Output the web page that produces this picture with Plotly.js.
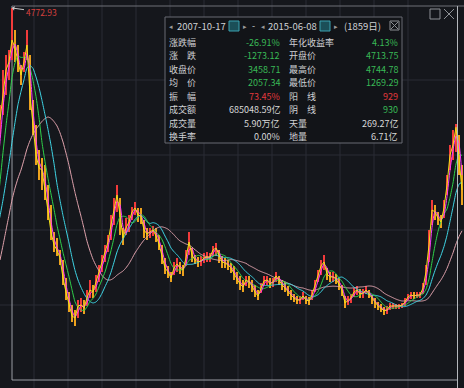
<!DOCTYPE html>
<html><head><meta charset="utf-8">
<script src="https://cdn.plot.ly/plotly-3.0.1.min.js"></script>
<style>html,body{margin:0;padding:0;background:#15171c;overflow:hidden}#chart{width:464px;height:388px}</style>
</head><body><div id="chart"></div>
<script>
// Closes of the bar groups before the visible window (they only feed the moving averages)
const preClose = [618,729,872,1059,1720,1996,2216,1908,1974,2018,2051,2084,2106,2128,2161,2194,2602,2878,3065];
// One bar group ≈ 12 trading days
const closeV = [3539,3814,4090,4178,4420,4332,4178,4035,4178,4365,3814,3484,3153,3010,2988,2767,2547,2305,2161,2106,
2018,1798,1643,1500,1379,1357,1489,1500,1467,1577,1665,1643,1754,1864,1974,2084,2194,2382,2569,2712,
2492,2238,2349,2415,2525,2569,2492,2481,2327,2283,2305,2327,2261,2172,2040,1908,1864,1798,1908,1952,
1908,1886,2018,2194,2051,1996,1974,1985,2018,2029,2029,2106,2128,2040,1974,1963,1941,1908,1842,1787,
1732,1698,1776,1754,1710,1643,1599,1687,1765,1776,1732,1754,1820,1776,1721,1687,1643,1610,1577,1555,
1555,1599,1555,1544,1610,1710,1820,1930,1974,1842,1809,1809,1787,1732,1665,1522,1555,1577,1643,1665,
1621,1632,1665,1621,1566,1522,1489,1467,1434,1445,1489,1489,1489,1489,1500,1533,1588,1610,1599,1610,
1610,1687,1864,2161,2547,2525,2459,2415,2569,2823,3153,3263,3459,3097,2767];
const highV = [3704,4090,4255,4310,4772.93,4531,4365,4145,4288,4531,4255,3759,3484,3208,3120,3043,2823,2602,2305,2238,
2106,1996,1798,1643,1500,1445,1555,1577,1555,1665,1776,1721,1831,1941,2051,2161,2272,2492,2679,2823,
2679,2349,2459,2492,2580,2635,2569,2569,2437,2349,2349,2371,2349,2272,2161,2018,1930,1864,1974,2018,
1974,1941,2106,2305,2128,2051,2029,2040,2073,2084,2073,2150,2183,2106,2040,2018,1996,1963,1930,1864,
1820,1776,1820,1820,1776,1721,1665,1743,1820,1820,1798,1798,1864,1820,1776,1754,1710,1665,1621,1599,
1599,1643,1599,1588,1665,1776,1886,1996,2051,1908,1864,1864,1842,1798,1721,1599,1599,1621,1687,1710,
1676,1676,1710,1665,1610,1577,1533,1511,1478,1489,1522,1522,1511,1511,1522,1577,1621,1643,1643,1643,
1643,1743,1941,2327,2657,2602,2525,2492,2657,2933,3263,3429,3500,3374,3043];
const lowV = [3374,3594,3814,3980,4200,4178,4068,3925,4068,4200,3649,3374,3043,2878,2767,2657,2437,2216,2084,2040,
1941,1721,1555,1423,1313,1269.29,1357,1423,1401,1489,1577,1577,1643,1754,1864,1974,2084,2216,2382,2525,
2272,2161,2272,2305,2437,2492,2415,2393,2238,2216,2238,2261,2194,2106,1952,1842,1798,1754,1831,1864,
1842,1820,1930,2051,1974,1952,1919,1930,1963,1974,1974,2040,2040,1963,1908,1908,1886,1853,1776,1732,
1665,1643,1710,1687,1643,1588,1555,1632,1721,1721,1687,1698,1754,1721,1665,1643,1599,1555,1533,1511,
1511,1555,1511,1500,1555,1643,1754,1831,1886,1776,1754,1754,1732,1665,1599,1467,1500,1522,1588,1610,
1577,1577,1621,1577,1511,1467,1445,1423,1390,1401,1445,1456,1456,1456,1467,1489,1555,1566,1566,1577,
1577,1621,1721,1974,2382,2437,2382,2349,2459,2712,2988,3097,3186,2933,2602];
const maLens = [2, 5, 10, 20];
const maColors = ['#ff3cff', '#2fd24a', '#3fd6e6', '#e0a3ad'];

const allClose = preClose.concat(closeV);
const allIdx = allClose.map((_, i) => i - preClose.length);
const idx = closeV.map((_, i) => i);
function ma(arr, n) {
  return arr.map((_, i) => i < n - 1 ? null : arr.slice(i - n + 1, i + 1).reduce((a, b) => a + b, 0) / n);
}
const W = 464, H = 388;
const px = x => x / W, py = y => 1 - y / H;

const traces = [];
traces.push({
  type: 'bar', x: idx, base: lowV, y: highV.map((h, i) => h - lowV[i]), width: 0.7,
  marker: {color: closeV.map((c, i) => (i === 0 || c >= closeV[i - 1]) ? '#f23b3b' : '#eda21e'), line: {width: 0}},
  hoverinfo: 'skip'
});
for (let k = maLens.length - 1; k >= 0; k--) {
  traces.push({type: 'scatter', mode: 'lines', x: allIdx, y: ma(allClose, maLens[k]),
    line: {color: maColors[k], width: 1, shape: 'spline', smoothing: 0.5}, hoverinfo: 'skip'});
}
traces.push({type: 'scatter', mode: 'lines', x: idx, y: closeV, line: {color: '#f2e21a', width: 1}, hoverinfo: 'skip'});

const shapes = [];
const gridC = '#2a2d34';
[34, 68, 102, 136, 170, 204, 238, 272, 306, 340, 374, 408].forEach(x =>
  shapes.push({type: 'line', xref: 'paper', yref: 'paper', x0: px(x), x1: px(x), y0: 0, y1: 1, line: {color: gridC, width: 1}, layer: 'below'}));
[80, 155, 230, 305].forEach(y =>
  shapes.push({type: 'line', xref: 'paper', yref: 'paper', x0: 0, x1: 1, y0: py(y), y1: py(y), line: {color: gridC, width: 1}, layer: 'below'}));
// selection box
shapes.push({type: 'line', xref: 'paper', yref: 'paper', x0: px(12), x1: px(12), y0: py(6), y1: py(380), line: {color: '#9a9da3', width: 1}, layer: 'below'});
shapes.push({type: 'line', xref: 'paper', yref: 'paper', x0: px(12), x1: px(457), y0: py(380), y1: py(380), line: {color: '#9a9da3', width: 1}, layer: 'below'});
shapes.push({type: 'line', xref: 'paper', yref: 'paper', x0: px(12), x1: px(464), y0: py(6), y1: py(6), line: {color: '#6e7177', width: 1}, layer: 'below'});
shapes.push({type: 'line', xref: 'paper', yref: 'paper', x0: px(457.5), x1: px(457.5), y0: py(6), y1: py(388), line: {color: '#b5b8bd', width: 1}, layer: 'above'});
// info panel
shapes.push({type: 'rect', xref: 'paper', yref: 'paper', x0: px(165), x1: px(402), y0: py(17), y1: py(143), fillcolor: '#121418', line: {color: '#686b72', width: 1}, layer: 'above'});
[[229, 239], [320, 330]].forEach(([a, b]) =>
  shapes.push({type: 'rect', xref: 'paper', yref: 'paper', x0: px(a), x1: px(b), y0: py(21), y1: py(31), fillcolor: '#1b4f58', line: {color: '#3aa2b0', width: 1}, layer: 'above'}));
shapes.push({type: 'rect', xref: 'paper', yref: 'paper', x0: px(390), x1: px(399), y0: py(21), y1: py(30), fillcolor: 'rgba(0,0,0,0)', line: {color: '#8a8d92', width: 1}, layer: 'above'});
shapes.push({type: 'line', xref: 'paper', yref: 'paper', x0: px(391), x1: px(398), y0: py(22), y1: py(29), line: {color: '#8a8d92', width: 1}, layer: 'above'});
shapes.push({type: 'line', xref: 'paper', yref: 'paper', x0: px(391), x1: px(398), y0: py(29), y1: py(22), line: {color: '#8a8d92', width: 1}, layer: 'above'});
// window icons
shapes.push({type: 'rect', xref: 'paper', yref: 'paper', x0: px(430), x1: px(440), y0: py(9), y1: py(19), fillcolor: 'rgba(0,0,0,0)', line: {color: '#8e9196', width: 1}, layer: 'above'});
shapes.push({type: 'line', xref: 'paper', yref: 'paper', x0: px(444), x1: px(454), y0: py(9), y1: py(19), line: {color: '#8e9196', width: 1}, layer: 'above'});
shapes.push({type: 'line', xref: 'paper', yref: 'paper', x0: px(444), x1: px(454), y0: py(19), y1: py(9), line: {color: '#8e9196', width: 1}, layer: 'above'});

const F = '"Noto Sans CJK SC", "Noto Sans", sans-serif';
const ann = [];
function t(x, y, text, color, anchor, size) {
  ann.push({xref: 'paper', yref: 'paper', x: px(x), y: py(y), text: text, showarrow: false,
    xanchor: anchor || 'left', yanchor: 'middle', font: {family: F, size: size || 9, color: color || '#cfd1d4'}});
}
const GR = '#39b956', RD = '#e2393d', WH = '#d8d8d8', LB = '#cfd1d4';
t(167, 26, '◂', '#9a9a9a', 'left', 7);
t(175, 26, '2007-10-17', LB, 'left', 9.5);
t(241, 26, '▸', '#9a9a9a', 'left', 7);
t(250, 26, '-', LB);
t(259, 26, '◂', '#9a9a9a', 'left', 7);
t(266, 26, '2015-06-08', LB, 'left', 9.5);
t(332, 26, '▸', '#9a9a9a', 'left', 7);
t(342, 26, '(1859日)', LB, 'left', 9.5);
const rowsY = [42, 55.5, 69, 82.5, 96, 109.5, 123, 136.5];
const leftLab = ['涨跌幅', '涨\u3000跌', '收盘价', '均\u3000价', '振\u3000幅', '成交额', '成交量', '换手率'];
const leftVal = ['-26.91%', '-1273.12', '3458.71', '2057.34', '73.45%', '685048.59亿', '5.90万亿', '0.00%'];
const leftCol = [GR, GR, GR, GR, RD, WH, WH, WH];
const rightLab = ['年化收益率', '开盘价', '最高价', '最低价', '阳\u3000线', '阴\u3000线', '天量', '地量'];
const rightVal = ['4.13%', '4713.75', '4744.78', '1269.29', '929', '930', '269.27亿', '6.71亿'];
const rightCol = [GR, GR, GR, GR, RD, GR, WH, WH];
rowsY.forEach((y, i) => {
  t(167, y, leftLab[i], LB);
  t(282, y, leftVal[i], leftCol[i], 'right');
  t(287, y, rightLab[i], LB);
  t(400, y, rightVal[i], rightCol[i], 'right');
});
const hiMax = Math.max(...highV);
ann.push({x: highV.indexOf(hiMax), y: hiMax, xref: 'x', yref: 'y', text: hiMax.toFixed(2), showarrow: true,
  ax: 29, ay: 4, arrowcolor: '#c8c8c8', arrowwidth: 1, arrowhead: 1, arrowsize: 0.8, standoff: 0,
  font: {family: F, size: 8.5, color: '#d8413f'}});

Plotly.newPlot('chart', traces, {
  width: W, height: H, margin: {l: 0, r: 0, t: 0, b: 0},
  paper_bgcolor: '#15171c', plot_bgcolor: '#15171c', showlegend: false, hovermode: false,
  xaxis: {range: [0, W / 3], showgrid: false, zeroline: false, showticklabels: false, showline: false, ticks: ''},
  yaxis: {range: [585, 4861], showgrid: false, zeroline: false, showticklabels: false, showline: false, ticks: ''},
  bargap: 0, shapes: shapes, annotations: ann
}, {staticPlot: true});
</script></body></html>
